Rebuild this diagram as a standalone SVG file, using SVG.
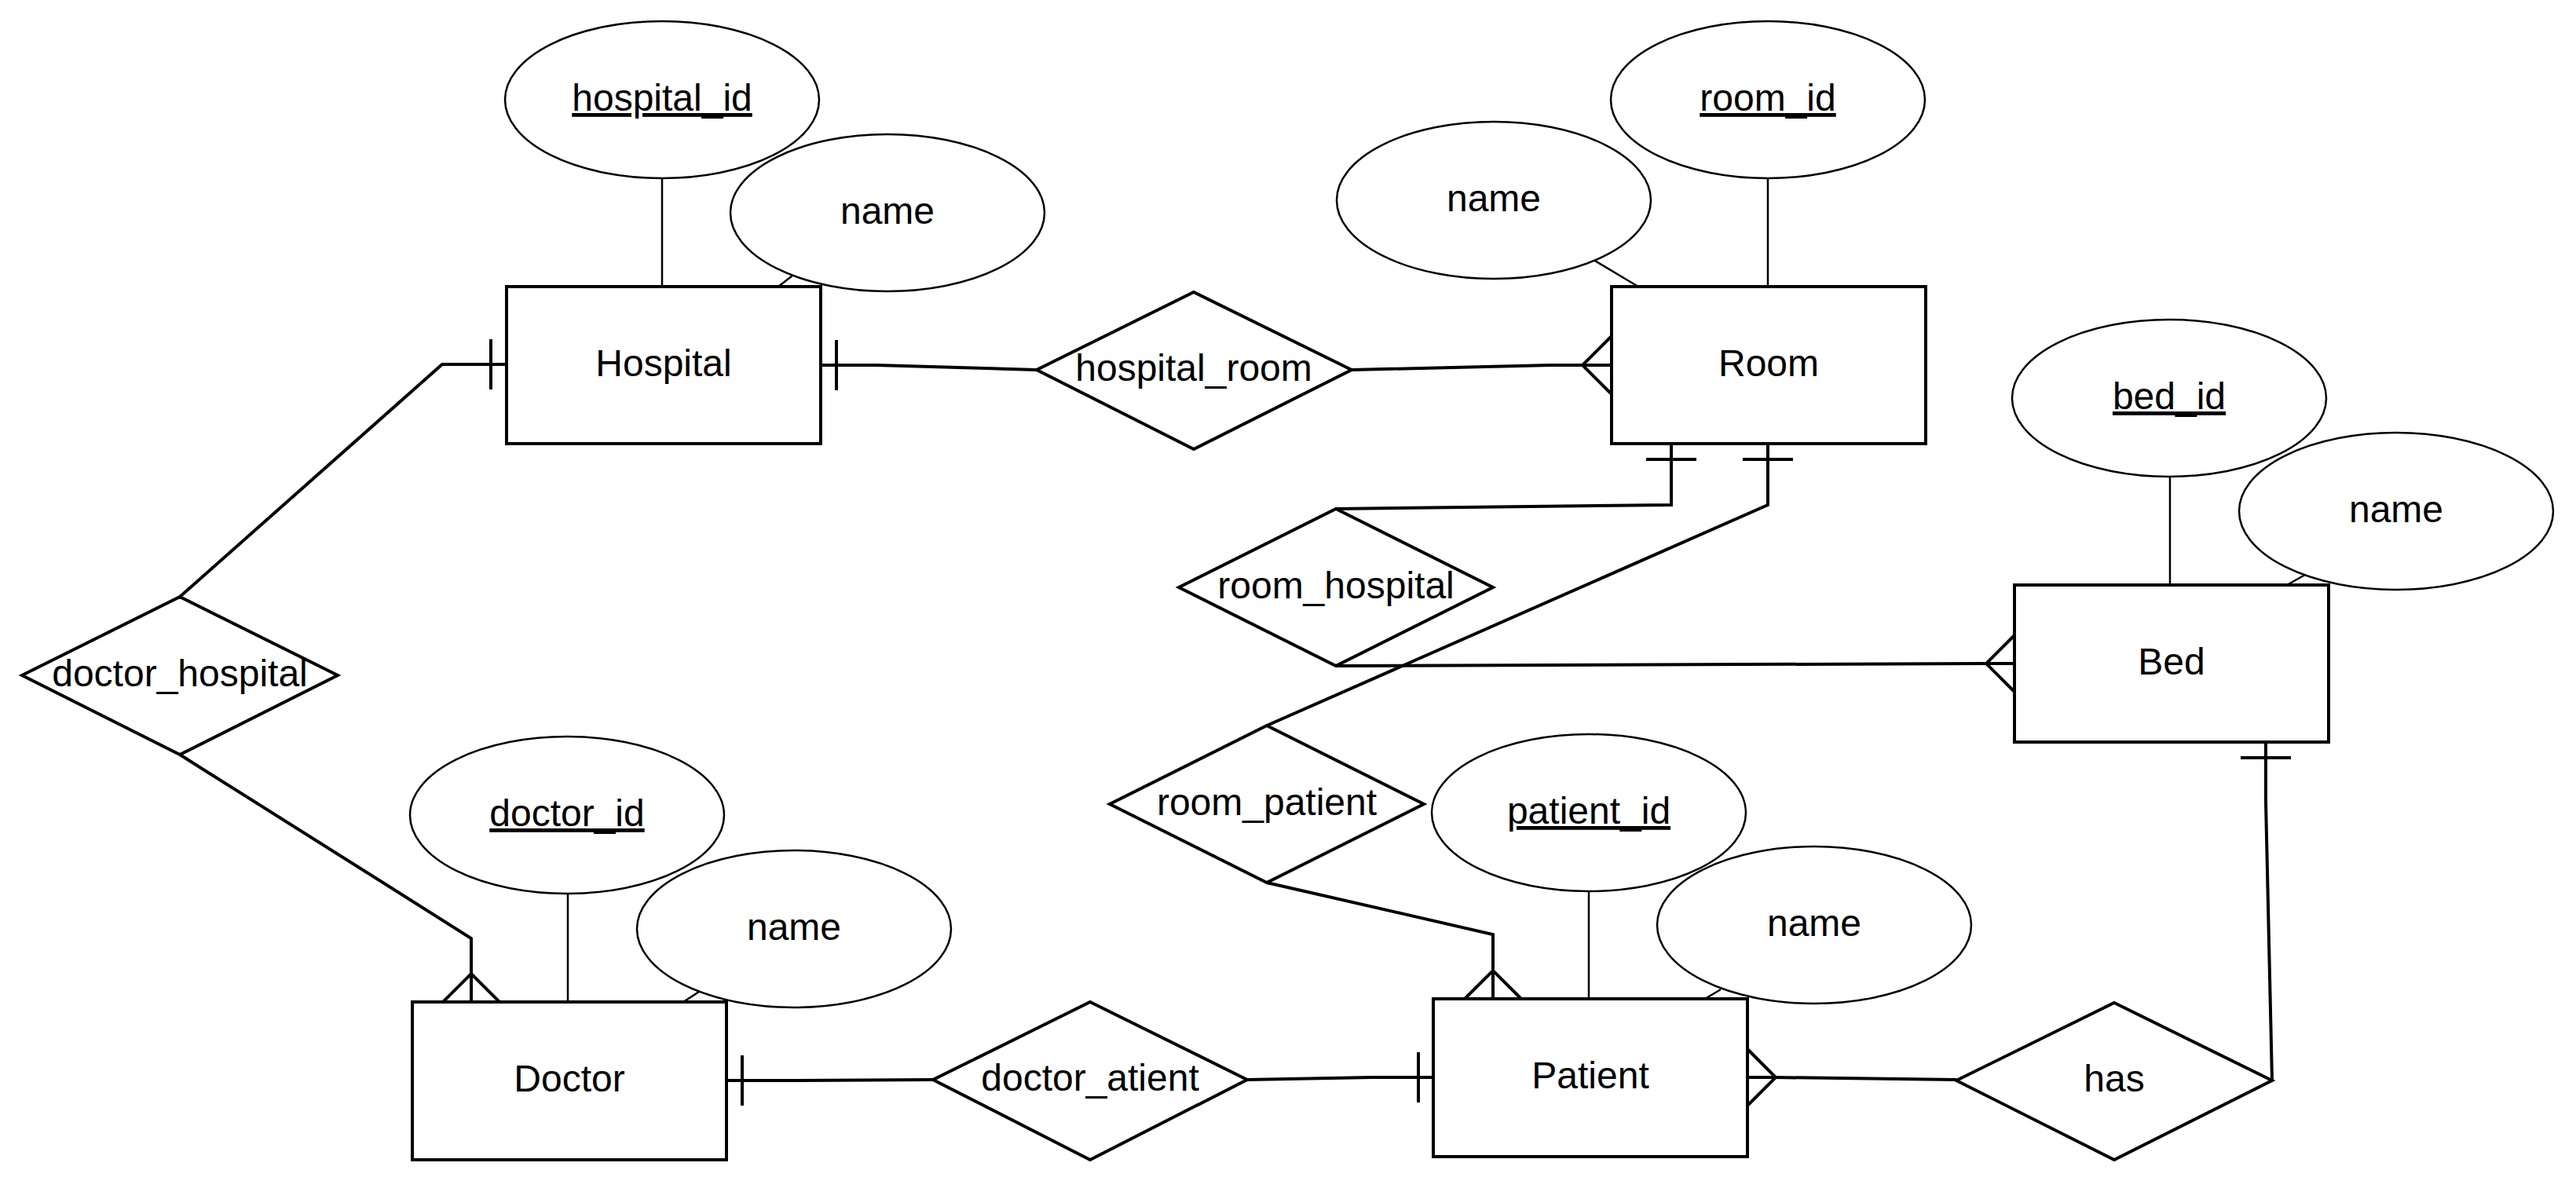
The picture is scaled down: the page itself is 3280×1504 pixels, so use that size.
<svg xmlns="http://www.w3.org/2000/svg" width="3280" height="1504" viewBox="0 0 3280 1504">
  <style>
    .bg { fill: #ffffff; }
    .entity { fill: #ffffff; stroke: #000000; stroke-width: 4; }
    .attr { fill: #ffffff; stroke: #000000; stroke-width: 2.5; }
    .rel { fill: #ffffff; stroke: #000000; stroke-width: 4; }
    .link { fill: none; stroke: #000000; stroke-width: 4; stroke-linejoin: miter; }
    .attr-link { fill: none; stroke: #000000; stroke-width: 2.5; }
    .label { font-family: "Liberation Sans", Arial, Helvetica, sans-serif; font-size: 48px; fill: #000000; text-anchor: middle; }
    .key { text-decoration: underline; }
  </style>
  <defs>
    <!-- "exactly one" bar, 20px before the line end -->
    <marker id="one" markerUnits="userSpaceOnUse" markerWidth="44" markerHeight="80" refX="40" refY="40" orient="auto" overflow="visible">
      <path d="M20,8 V72" fill="none" stroke="#000000" stroke-width="4"/>
    </marker>
    <!-- "many" crow's foot opening onto the entity -->
    <marker id="many" markerUnits="userSpaceOnUse" markerWidth="44" markerHeight="80" refX="40" refY="40" orient="auto" overflow="visible">
      <path d="M40,4 L4,40 L40,76" fill="none" stroke="#000000" stroke-width="4"/>
    </marker>
  </defs>

  <rect class="bg" x="0" y="0" width="3280" height="1504"/>

  <g id="connectors">
    <!-- attribute links -->
    <line class="attr-link" x1="843" y1="227" x2="843" y2="365"/>
    <line class="attr-link" x1="1009" y1="351" x2="991" y2="365"/>
    <line class="attr-link" x1="2251" y1="227" x2="2251" y2="365"/>
    <line class="attr-link" x1="2029" y1="331" x2="2086" y2="365"/>
    <line class="attr-link" x1="2763" y1="607" x2="2763" y2="745"/>
    <line class="attr-link" x1="2935" y1="732" x2="2912" y2="745"/>
    <line class="attr-link" x1="723" y1="1139" x2="723" y2="1276"/>
    <line class="attr-link" x1="890" y1="1263" x2="870" y2="1276"/>
    <line class="attr-link" x1="2023" y1="1135" x2="2023" y2="1272"/>
    <line class="attr-link" x1="2191" y1="1260" x2="2171" y2="1272"/>

    <!-- relationship links -->
    <path class="link" d="M229,760 L563,464 L645,464" marker-end="url(#one)"/>
    <path class="link" d="M229,961 L600,1195 L600,1276" marker-end="url(#many)"/>
    <path class="link" d="M1320,471 L1116,465 L1045,465" marker-end="url(#one)"/>
    <path class="link" d="M1721,471 L1975,465 L2051,465" marker-end="url(#many)"/>
    <path class="link" d="M1701,648 L2128,643 L2128,565" marker-end="url(#one)"/>
    <path class="link" d="M1701,848 L2527,845 L2565,845" marker-end="url(#many)"/>
    <path class="link" d="M1613,924 L2251,643 L2251,565" marker-end="url(#one)"/>
    <path class="link" d="M1613,1124 L1901,1190 L1901,1272" marker-end="url(#many)"/>
    <path class="link" d="M1188,1375 L1009,1376 L925,1376" marker-end="url(#one)"/>
    <path class="link" d="M1588,1375 L1748,1372 L1826,1372" marker-end="url(#one)"/>
    <path class="link" d="M2491,1375 L2258,1372 L2225,1372" marker-end="url(#many)"/>
    <path class="link" d="M2893,1376 L2885,1021 L2885,945" marker-end="url(#one)"/>
  </g>

  <!-- Hospital -->
  <g id="hospital_id">
    <ellipse class="attr" cx="843" cy="127" rx="200" ry="100"/>
    <text class="label key" x="843" y="141">hospital_id</text>
  </g>
  <g id="hospital_name">
    <ellipse class="attr" cx="1130" cy="271" rx="200" ry="100"/>
    <text class="label" x="1130" y="285">name</text>
  </g>
  <g id="hospital">
    <rect class="entity" x="645" y="365" width="400" height="200"/>
    <text class="label" x="845" y="479">Hospital</text>
  </g>

  <!-- hospital_room -->
  <g id="hospital_room">
    <polygon class="rel" points="1520,372 1721,471 1520,572 1320,471"/>
    <text class="label" x="1520" y="485">hospital_room</text>
  </g>

  <!-- Room -->
  <g id="room_name">
    <ellipse class="attr" cx="1902" cy="255" rx="200" ry="100"/>
    <text class="label" x="1902" y="269">name</text>
  </g>
  <g id="room_id">
    <ellipse class="attr" cx="2251" cy="127" rx="200" ry="100"/>
    <text class="label key" x="2251" y="141">room_id</text>
  </g>
  <g id="room">
    <rect class="entity" x="2052" y="365" width="400" height="200"/>
    <text class="label" x="2252" y="479">Room</text>
  </g>

  <!-- Bed -->
  <g id="bed_id">
    <ellipse class="attr" cx="2762" cy="507" rx="200" ry="100"/>
    <text class="label key" x="2762" y="521">bed_id</text>
  </g>
  <g id="bed_name">
    <ellipse class="attr" cx="3051" cy="651" rx="200" ry="100"/>
    <text class="label" x="3051" y="665">name</text>
  </g>
  <g id="bed">
    <rect class="entity" x="2565" y="745" width="400" height="200"/>
    <text class="label" x="2765" y="859">Bed</text>
  </g>

  <!-- room_hospital -->
  <g id="room_hospital">
    <polygon class="rel" points="1701,648 1901,748 1701,848 1501,748"/>
    <text class="label" x="1701" y="762">room_hospital</text>
  </g>

  <!-- doctor_hospital -->
  <g id="doctor_hospital">
    <polygon class="rel" points="229,760 430,860 229,961 28,860"/>
    <text class="label" x="229" y="874">doctor_hospital</text>
  </g>

  <!-- room_patient -->
  <g id="room_patient">
    <polygon class="rel" points="1613,924 1813,1024 1613,1124 1413,1024"/>
    <text class="label" x="1613" y="1038">room_patient</text>
  </g>

  <!-- Doctor -->
  <g id="doctor_id">
    <ellipse class="attr" cx="722" cy="1038" rx="200" ry="100"/>
    <text class="label key" x="722" y="1052">doctor_id</text>
  </g>
  <g id="doctor_name">
    <ellipse class="attr" cx="1011" cy="1183" rx="200" ry="100"/>
    <text class="label" x="1011" y="1197">name</text>
  </g>
  <g id="doctor">
    <rect class="entity" x="525" y="1276" width="400" height="201"/>
    <text class="label" x="725" y="1390">Doctor</text>
  </g>

  <!-- doctor_atient -->
  <g id="doctor_atient">
    <polygon class="rel" points="1388,1276 1588,1375 1388,1477 1188,1375"/>
    <text class="label" x="1388" y="1389">doctor_atient</text>
  </g>

  <!-- Patient -->
  <g id="patient_id">
    <ellipse class="attr" cx="2023" cy="1035" rx="200" ry="100"/>
    <text class="label key" x="2023" y="1049">patient_id</text>
  </g>
  <g id="patient_name">
    <ellipse class="attr" cx="2310" cy="1178" rx="200" ry="100"/>
    <text class="label" x="2310" y="1192">name</text>
  </g>
  <g id="patient">
    <rect class="entity" x="1825" y="1272" width="400" height="201"/>
    <text class="label" x="2025" y="1386">Patient</text>
  </g>

  <!-- has -->
  <g id="has">
    <polygon class="rel" points="2692,1277 2893,1376 2692,1477 2491,1376"/>
    <text class="label" x="2692" y="1390">has</text>
  </g>
</svg>
